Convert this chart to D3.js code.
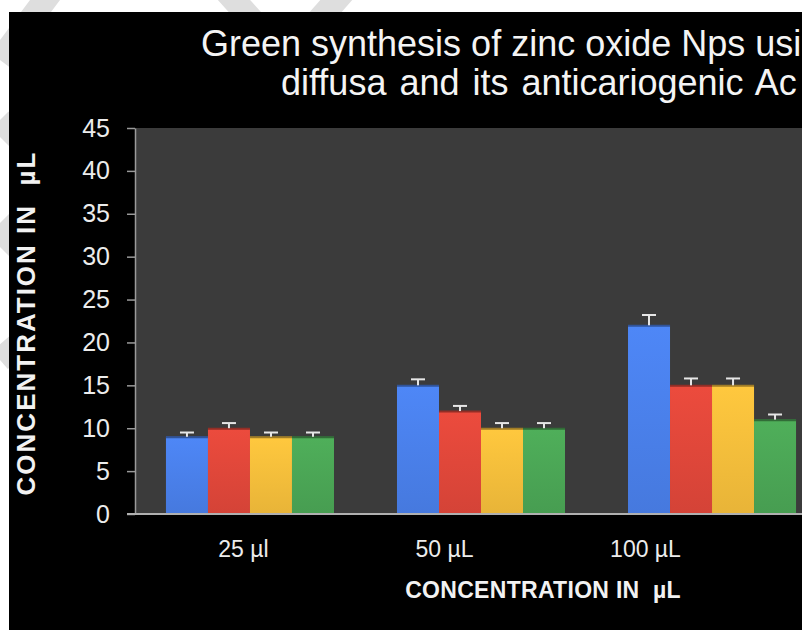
<!DOCTYPE html>
<html>
<head>
<meta charset="utf-8">
<script src="https://cdn.jsdelivr.net/npm/d3@7"></script>
<style>
  html, body { margin: 0; padding: 0; background: #fff; }
  svg { display: block; }
  text { font-family: "Liberation Sans", Arial, Helvetica, sans-serif; }
</style>
</head>
<body>
<svg id="chart" width="802" height="630"></svg>
<script>
// ---- data ----
const categories = ["25 µl", "50 µL", "100 µL"];
const seriesNames = ["Series 1", "Series 2", "Series 3", "Series 4"];
const seriesColors = ["#4a80ea", "#e0473a", "#f5be3b", "#4ba655"];
const series1 = [9, 15, 22];
const series2 = [10, 12, 15];
const series3 = [9, 10, 15];
const series4 = [9, 10, 11];
const errors1 = [0.5, 0.7, 1.2];
const errors2 = [0.6, 0.6, 0.8];
const errors3 = [0.5, 0.6, 0.8];
const errors4 = [0.5, 0.6, 0.6];
const yTicks = [0, 5, 10, 15, 20, 25, 30, 35, 40, 45];
const titleLine1 = "Green synthesis of zinc oxide Nps usi";
const titleLine2 = "diffusa and its anticariogenic Ac";
const axisTitle = "CONCENTRATION IN\u00a0\u00a0µL";

const values = [series1, series2, series3, series4];
const errors = [errors1, errors2, errors3, errors4];

const svg = d3.select("#chart");

// white page with faint watermark streaks in the margin
svg.append("rect").attr("width", 802).attr("height", 630).attr("fill", "#fff");
const wm = svg.append("g").attr("stroke", "#dedede").attr("stroke-width", 24).attr("fill", "none");
[[60, -20, 0, 60], [0, 120, 60, 180], [60, 180, 0, 240], [0, 230, 70, 300], [70, 300, 0, 360],
 [225, -10, 270, 40], [345, -10, 310, 30]].forEach(s => {
  wm.append("line").attr("x1", s[0]).attr("y1", s[1]).attr("x2", s[2]).attr("y2", s[3]);
});

// black chart background
svg.append("rect").attr("x", 9).attr("y", 12).attr("width", 793).attr("height", 618).attr("fill", "#000");

// scales
const y = d3.scaleLinear().domain([0, 45]).range([514, 128]);
const x0 = d3.scaleBand().domain(categories).range([135, 827]).paddingInner(0.2727).paddingOuter(0.134);
const x1 = d3.scaleBand().domain(seriesNames).range([0, x0.bandwidth()]);
const xLabel = d3.scalePoint().domain(categories).range([243, 645]);

// plot area
svg.append("rect").attr("x", 135).attr("y", y(45)).attr("width", 802 - 135)
  .attr("height", y(0) - y(45)).attr("fill", "#3b3b3b");

// gradients for bars
const defs = svg.append("defs");
seriesColors.forEach((c, i) => {
  const g = defs.append("linearGradient").attr("id", "grad" + i)
    .attr("x1", 0).attr("y1", 0).attr("x2", 0).attr("y2", 1);
  g.append("stop").attr("offset", "0%").attr("stop-color", d3.color(c).brighter(0.15));
  g.append("stop").attr("offset", "100%").attr("stop-color", d3.color(c).darker(0.15));
});

// bars
const groups = svg.append("g").selectAll("g").data(categories).join("g")
  .attr("transform", d => `translate(${x0(d)},0)`);

groups.each(function(cat, ci) {
  const g = d3.select(this);
  seriesNames.forEach((s, si) => {
    const v = values[si][ci];
    g.append("rect")
      .attr("x", x1(s)).attr("y", y(v))
      .attr("width", x1.bandwidth()).attr("height", y(0) - y(v))
      .attr("fill", `url(#grad${si})`);
    g.append("line")
      .attr("x1", x1(s)).attr("x2", x1(s) + x1.bandwidth())
      .attr("y1", y(v) + 0.5).attr("y2", y(v) + 0.5)
      .attr("stroke", d3.color(seriesColors[si]).darker(1.2)).attr("stroke-width", 2);
    // error bar
    const cx = x1(s) + x1.bandwidth() / 2;
    const e = errors[si][ci];
    g.append("line").attr("x1", cx).attr("x2", cx).attr("y1", y(v)).attr("y2", y(v + e))
      .attr("stroke", "#e6e6e6").attr("stroke-width", 2);
    g.append("line").attr("x1", cx - 7).attr("x2", cx + 7).attr("y1", y(v + e)).attr("y2", y(v + e))
      .attr("stroke", "#e6e6e6").attr("stroke-width", 2);
  });
});

// y axis
const yAxis = d3.axisLeft(y).tickValues(yTicks).tickSize(8).tickPadding(17).tickSizeOuter(0);
const ya = svg.append("g").attr("transform", "translate(135,0)").call(yAxis);
ya.select(".domain").attr("stroke", "#9a9a9a").attr("stroke-width", 1.5);
ya.selectAll(".tick line").attr("stroke", "#9a9a9a").attr("stroke-width", 1.5);
ya.selectAll(".tick text").attr("fill", "#ececec").attr("font-size", 25)
  .attr("font-family", "Liberation Sans, Arial, sans-serif");

// x baseline
svg.append("line").attr("x1", 127).attr("x2", 802).attr("y1", y(0)).attr("y2", y(0))
  .attr("stroke", "#b0b0b0").attr("stroke-width", 2);

// x labels
const xAxis = d3.axisBottom(xLabel).tickSize(0).tickPadding(0);
const xa = svg.append("g").attr("transform", `translate(0,${y(0)})`).call(xAxis);
xa.select(".domain").remove();
xa.selectAll(".tick text").attr("fill", "#ececec").attr("font-size", 23)
  .attr("font-family", "Liberation Sans, Arial, sans-serif")
  .attr("dy", null).attr("y", 43);

// axis titles
svg.append("text").attr("x", 543).attr("y", 598).attr("text-anchor", "middle")
  .attr("fill", "#f2f2f2").attr("font-size", 23).attr("font-weight", "bold")
  .attr("letter-spacing", 0.3).text(axisTitle);

svg.append("text").attr("transform", "translate(35,323) rotate(-90)").attr("text-anchor", "middle")
  .attr("fill", "#f2f2f2").attr("font-size", 26).attr("font-weight", "bold")
  .attr("letter-spacing", 2).text(axisTitle);

// title
svg.append("text").attr("x", 201).attr("y", 56).attr("fill", "#f4f4f4")
  .attr("font-size", 36).text(titleLine1);
svg.append("text").attr("x", 281).attr("y", 95).attr("fill", "#f4f4f4")
  .attr("font-size", 36).attr("word-spacing", 3).text(titleLine2);
</script>
</body>
</html>
